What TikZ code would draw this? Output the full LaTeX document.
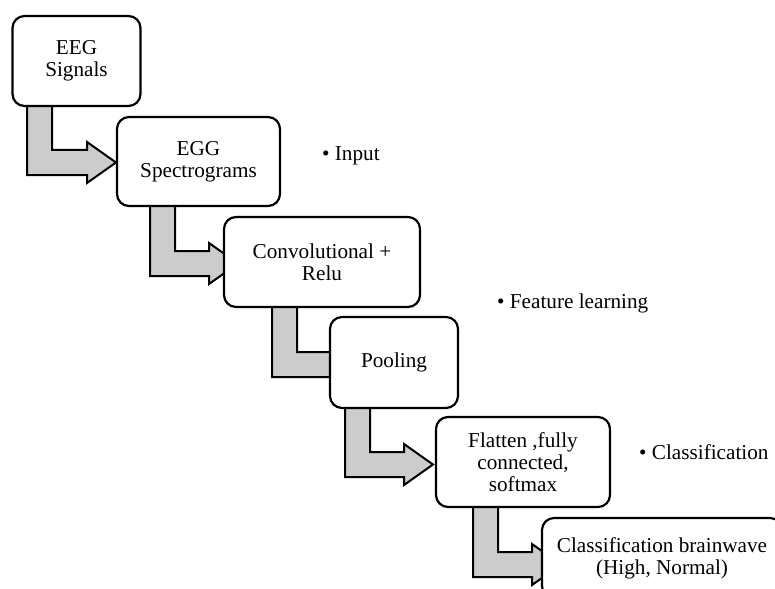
\documentclass[tikz,border=0pt]{standalone}
\usepackage{fontspec}
\setmainfont{Liberation Serif}
\usetikzlibrary{backgrounds,calc}
\definecolor{arrowgray}{RGB}{204,204,204}
\tikzset{
  box/.style={draw=black, line width=2.2pt, rounded corners=12pt, fill=white,
    align=center, inner sep=0pt, font=\fontsize{21.2}{22}\selectfont},
  fatarr/.style={fill=arrowgray, draw=black, line width=2pt, line join=miter},
  label/.style={anchor=west, inner sep=0pt, font=\fontsize{21.2}{22}\selectfont}
}
% #1 source node, #2 target node, #3 stem left x, #4 arm top y, #5 head start x
\newcommand\fatarrow[5]{%
  \draw[fatarr] (#3,0 |- #1.center) -- (#3,#4+25) -- (#5,#4+25) -- (#5,#4+33)
    -- (#5+29,#4+12.5) -- (#5,#4-8) -- (#5,#4) -- (#3+25,#4)
    -- (#3+25,0 |- #1.center) -- cycle;}
\begin{document}
\begin{tikzpicture}[x=1pt,y=-1pt]
\useasboundingbox (0,0) rectangle (775,588);
\node[box, minimum width=128pt, minimum height=90pt] (b1) at (76.5,61) {EEG\\Signals};
\node[box, minimum width=163pt, minimum height=89pt] (b2) at (198.5,161.5) {EGG\\Spectrograms};
\node[box, minimum width=196pt, minimum height=90pt] (b3) at (322,262) {Convolutional +\\Relu};
\node[box, minimum width=128pt, minimum height=91pt] (b4) at (394,362.5) {Pooling};
\node[box, minimum width=174pt, minimum height=90pt] (b5) at (523,462) {Flatten ,fully\\connected,\\softmax};
\node[box, minimum width=240pt, minimum height=80pt] (b6) at (662,558) {Classification brainwave\\(High, Normal)};
\begin{pgfonlayer}{background}
\fatarrow{b1}{b2}{27}{150}{87}
\fatarrow{b2}{b3}{150}{251}{209}
\fatarrow{b3}{b4}{272}{352}{330}
\fatarrow{b4}{b5}{345}{452}{404}
\fatarrow{b5}{b6}{473}{552}{532}
\end{pgfonlayer}
\node[label] (l1) at (322,156) {• Input};
\node[label] (l2) at (497,303) {• Feature learning};
\node[label] (l3) at (639,452) {• Classification};
\end{tikzpicture}
\end{document}
